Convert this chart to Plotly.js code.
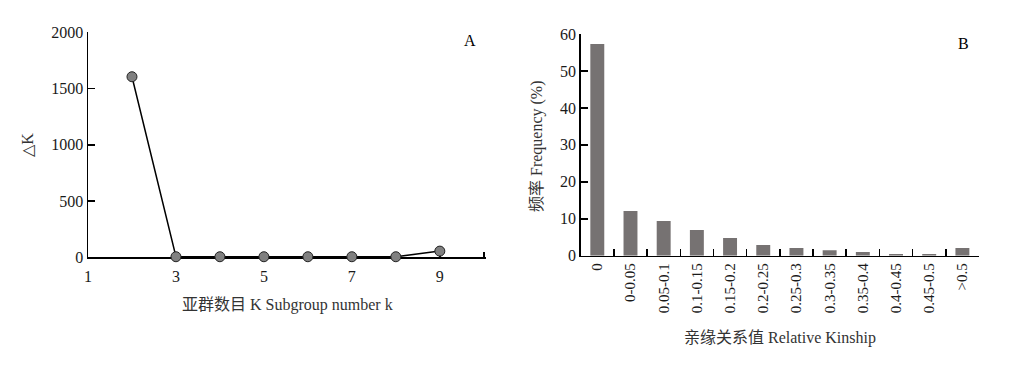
<!DOCTYPE html>
<html>
<head>
<meta charset="utf-8">
<script src="https://cdn.plot.ly/plotly-3.0.1.min.js"></script>
<style>html,body{margin:0;padding:0;background:#fff;}#chart{width:1034px;height:365px;}</style>
</head>
<body>
<div id="chart"></div>
<script>
// Panel A: Delta K vs subgroup number
const kValues = [2, 3, 4, 5, 6, 7, 8, 9];
const deltaK = [1605, 5, 5, 5, 5, 5, 5, 55];

// Panel B: relative kinship frequency
const kinshipCategories = ["0", "0-0.05", "0.05-0.1", "0.1-0.15", "0.15-0.2", "0.2-0.25", "0.25-0.3", "0.3-0.35", "0.35-0.4", "0.4-0.45", "0.45-0.5", ">0.5"];
const kinshipFreq = [57.3, 12.1, 9.4, 6.95, 4.8, 2.9, 2.1, 1.5, 1.0, 0.45, 0.45, 2.1];

const xTickValsA = [1, 3, 5, 7, 9, 10];
const xTickTextA = ["1", "3", "5", "7", "9", ""];

const W = 1034, H = 365;
const fx = p => p / W;
const fy = p => (H - p) / H;

const FONT = '"Liberation Serif", "Noto Sans CJK SC", serif';
const tickFont = {family: FONT, size: 16, color: '#1a1a1a'};
const titleFont = {family: FONT, size: 16, color: '#333'};

const traces = [
  {
    x: kValues, y: deltaK, type: 'scatter', mode: 'lines+markers',
    xaxis: 'x', yaxis: 'y',
    line: {color: '#000', width: 1.5},
    marker: {size: 10, color: '#808080', line: {color: '#222', width: 1}},
    cliponaxis: false, hoverinfo: 'x+y'
  },
  {
    x: kinshipCategories, y: kinshipFreq, type: 'bar',
    xaxis: 'x2', yaxis: 'y2',
    width: 0.42,
    marker: {color: '#767272', line: {width: 0}}
  }
];

const axisCommon = {
  showline: true, linecolor: '#000', linewidth: 1.5,
  ticks: 'inside', tickcolor: '#000', tickwidth: 1.5,
  showgrid: false, zeroline: false, tickfont: tickFont,
  fixedrange: true
};

const layout = {
  width: W, height: H,
  margin: {l: 0, r: 0, t: 0, b: 0},
  paper_bgcolor: '#fff', plot_bgcolor: 'rgba(0,0,0,0)',
  showlegend: false,
  xaxis: Object.assign({}, axisCommon, {
    domain: [fx(88), fx(486)], range: [1, 10.05], anchor: 'y',
    tickmode: 'array', tickvals: xTickValsA, ticktext: xTickTextA,
    ticklen: 5, layer: 'below traces', ticklabelstandoff: 4
  }),
  yaxis: Object.assign({}, axisCommon, {
    domain: [fy(257.3), fy(32.3)], range: [0, 2000], anchor: 'x',
    tickmode: 'array', tickvals: [0, 500, 1000, 1500, 2000],
    ticklen: 7, layer: 'below traces'
  }),
  xaxis2: Object.assign({}, axisCommon, {
    domain: [fx(580.7), fx(979)], range: [-0.5, 11.5], anchor: 'y2',
    type: 'category', tickson: 'boundaries', ticklen: 7,
    tickangle: -90, tickfont: {family: FONT, size: 15, color: '#1a1a1a'}
  }),
  yaxis2: Object.assign({}, axisCommon, {
    domain: [fy(255.7), fy(34)], range: [0, 60], anchor: 'x2',
    tickmode: 'array', tickvals: [0, 10, 20, 30, 40, 50, 60],
    ticklen: 7
  }),
  annotations: [
    {text: '亚群数目 K Subgroup number k', xref: 'paper', yref: 'paper',
     x: fx(287), y: fy(305), xanchor: 'center', yanchor: 'middle', showarrow: false, font: titleFont},
    {text: '<span style="font-family:\'DejaVu Sans\'">△</span>K', xref: 'paper', yref: 'paper', textangle: -90,
     x: fx(27), y: fy(145), xanchor: 'center', yanchor: 'middle', showarrow: false, font: titleFont},
    {text: '亲缘关系值 Relative Kinship', xref: 'paper', yref: 'paper',
     x: fx(780), y: fy(338), xanchor: 'center', yanchor: 'middle', showarrow: false, font: titleFont},
    {text: '频率 Frequency (%)', xref: 'paper', yref: 'paper', textangle: -90,
     x: fx(537), y: fy(146), xanchor: 'center', yanchor: 'middle', showarrow: false, font: titleFont},
    {text: 'A', xref: 'paper', yref: 'paper',
     x: fx(470), y: fy(40), xanchor: 'center', yanchor: 'middle', showarrow: false, font: {family: FONT, size: 16, color: '#000'}},
    {text: 'B', xref: 'paper', yref: 'paper',
     x: fx(963), y: fy(44), xanchor: 'center', yanchor: 'middle', showarrow: false, font: {family: FONT, size: 16, color: '#000'}}
  ]
};

Plotly.newPlot('chart', traces, layout, {displayModeBar: false, staticPlot: true});
</script>
</body>
</html>
